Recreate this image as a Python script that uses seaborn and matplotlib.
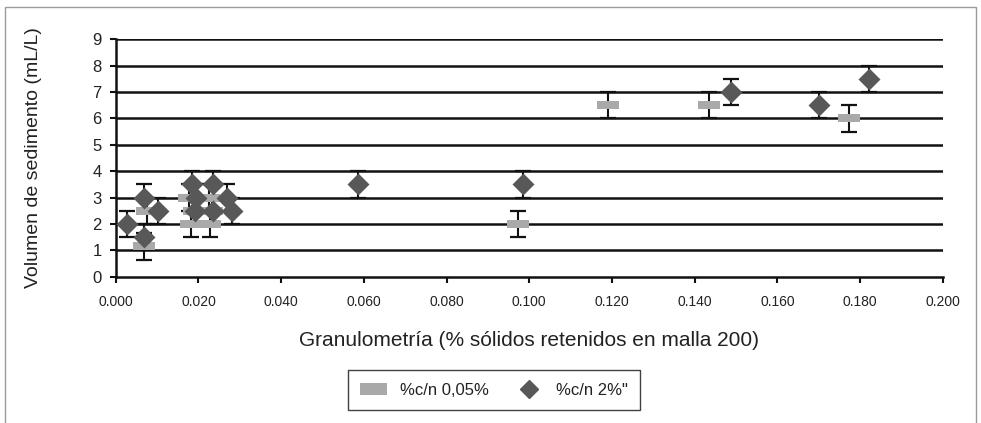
import numpy as np
import pandas as pd
import seaborn as sns
import matplotlib.pyplot as plt
from matplotlib.lines import Line2D
from matplotlib.patches import Rectangle

# Datos
serie_a = "%c/n 0,05%"
serie_b = '%c/n 2%"'

gris_x = [0.0068, 0.0075, 0.0177, 0.0226, 0.0190, 0.0232, 0.0182, 0.0228,
          0.0972, 0.1190, 0.1434, 0.1774]
gris_y = [1.15, 2.5, 3.0, 3.0, 2.5, 2.5, 2.0, 2.0, 2.0, 6.5, 6.5, 6.0]
gris_err = [0.5] * len(gris_x)

rombo_x = [0.0027, 0.0068, 0.0068, 0.0101, 0.0184, 0.0234, 0.0194, 0.0192,
           0.0234, 0.0270, 0.0280, 0.0586, 0.0985, 0.1488, 0.1700, 0.1822]
rombo_y = [2.0, 1.5, 3.0, 2.5, 3.5, 3.5, 3.0, 2.5, 2.5, 3.0, 2.5, 3.5, 3.5,
           7.0, 6.5, 7.5]
rombo_err = [0.5] * len(rombo_x)

x_ticks = [0.000, 0.020, 0.040, 0.060, 0.080, 0.100, 0.120, 0.140, 0.160, 0.180, 0.200]
y_ticks = list(range(0, 10))

df = pd.DataFrame({
    "x": gris_x + rombo_x,
    "y": gris_y + rombo_y,
    "err": gris_err + rombo_err,
    "serie": [serie_a] * len(gris_x) + [serie_b] * len(rombo_x),
})

sns.set_style("white")
plt.rcParams["font.family"] = ["Liberation Sans", "DejaVu Sans"]

c_gris = "#a9a9a9"
c_rombo = "#585858"

fig = plt.figure(figsize=(9.81, 4.23), dpi=100)
ax = fig.add_axes([0.118, 0.346, 0.843, 0.561])

# líneas de cuadrícula horizontales
for yv in y_ticks[1:]:
    ax.axhline(yv, color="#111111", lw=1.8, zorder=1)

# barras de error
for serie in [serie_a, serie_b]:
    sub = df[df.serie == serie]
    ax.errorbar(sub.x, sub.y, yerr=sub.err, fmt="none", ecolor="#111111",
                elinewidth=1.5, capsize=5.8, capthick=1.6, zorder=2)

rect = [(-1.5, -0.5), (1.5, -0.5), (1.5, 0.5), (-1.5, 0.5), (-1.5, -0.5)]
sns.scatterplot(data=df[df.serie == serie_a], x="x", y="y", marker=rect,
                color=c_gris, s=260, linewidth=0, ax=ax, zorder=3, legend=False)
sns.scatterplot(data=df[df.serie == serie_b], x="x", y="y", marker="D",
                color=c_rombo, s=125, linewidth=0, ax=ax, zorder=4, legend=False)

ax.set_xlim(0, 0.2)
ax.set_ylim(0, 9)
ax.set_xticks(x_ticks)
ax.set_xticklabels([f"{v:.3f}" for v in x_ticks], fontsize=10, color="#222222")
ax.set_yticks(y_ticks)
ax.set_yticklabels([str(v) for v in y_ticks], fontsize=12, color="#222222")
ax.tick_params(axis="both", direction="out", length=4, width=1.5, color="#111111",
               bottom=True, left=True, pad=6)
ax.tick_params(axis="x", pad=9)

for s in ["top", "right"]:
    ax.spines[s].set_visible(False)
for s in ["left", "bottom"]:
    ax.spines[s].set_color("#111111")
    ax.spines[s].set_linewidth(1.8)

ax.set_xlabel("Granulometría (% sólidos retenidos en malla 200)", fontsize=15,
              color="#222222", labelpad=16)
ax.set_ylabel("Volumen de sedimento (mL/L)", fontsize=14, color="#222222",
              labelpad=36)

handles = [
    Rectangle((0, 0), 1, 1, facecolor=c_gris, edgecolor="none"),
    Line2D([], [], marker="D", color=c_rombo, linestyle="none", markersize=9),
]
leg = fig.legend(handles, [serie_a, serie_b], loc="center", ncol=2,
                 bbox_to_anchor=(0.5036, 0.078), fontsize=12, frameon=True,
                 fancybox=False, edgecolor="#111111", handlelength=1.6,
                 handleheight=0.7, columnspacing=1.6, borderpad=0.75)
leg.get_frame().set_linewidth(1.0)
for t in leg.get_texts():
    t.set_color("#222222")

# marco exterior
fig.add_artist(Rectangle((5 / 981, -0.05), 971 / 981, 1.05 - 7 / 423,
                         transform=fig.transFigure, fill=False,
                         edgecolor="#9a9a9a", lw=1.0))

fig.savefig("out.png", dpi=100)
